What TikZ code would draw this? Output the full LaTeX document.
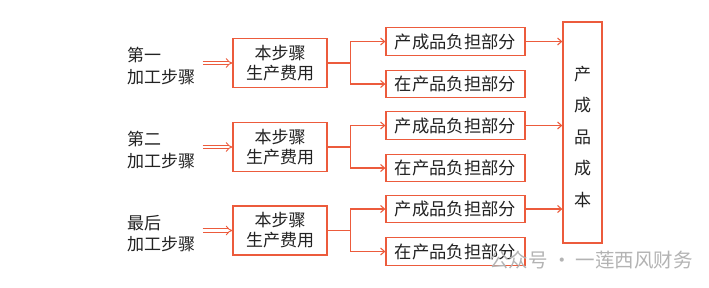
\documentclass[tikz,border=0pt]{standalone}
\usepackage{fontspec}
\setmainfont{Noto Sans CJK SC}
\usetikzlibrary{arrows.meta}
\definecolor{boxred}{HTML}{EC5B3C}
\definecolor{txt}{HTML}{222222}
\definecolor{wm}{HTML}{B3B3B3}
\tikzset{
  stepbox/.style={draw=boxred, line width=1.3pt, fill=white, text=txt, align=center,
    font=\fontsize{17}{20}\selectfont, inner sep=0pt},
  partbox/.style={draw=boxred, line width=1.3pt, fill=white, text=txt,
    minimum width=139pt, minimum height=27.5pt, font=\fontsize{17.3}{20}\selectfont, inner sep=0pt},
  lbl/.style={text=txt, align=left, anchor=west, inner sep=0pt, font=\fontsize{17}{21.7}\selectfont},
  conn/.style={draw=boxred, line width=1.1pt},
  arr/.style={conn, -{Straight Barb[length=4pt,width=7pt,line width=1.1pt]}},
  dblarr/.style={draw=boxred, line width=0.9pt, double=white, double distance=2.4pt, -{Implies}},
}
\begin{document}
\begin{tikzpicture}[x=1pt,y=-1pt]
\useasboundingbox[fill=white] (0,0) rectangle (709,287);
% tall box
\node[draw=boxred, line width=1.3pt, minimum width=39pt, minimum height=221pt, inner sep=0pt] (T) at (582.5,132.5) {};
\node[text=txt, align=center, inner sep=0pt, font=\fontsize{17}{31.5}\selectfont] (Tt) at (582.5,137) {产\\成\\品\\成\\本};
% groups
\foreach \i/\y/\la/\lb in {1/63/第一/加工步骤, 2/147/第二/加工步骤, 3/230.5/最后/加工步骤} {
  \node[lbl] (l\i) at (127,\y+3) {\la\\\lb};
  \node[stepbox, minimum width=94pt, minimum height=49pt] (s\i) at (280,\y) {本步骤\\生产费用};
  \coordinate (a\i) at (202.5,\y);
  \draw[dblarr] (a\i) -- (s\i.west);
  \node[partbox] (p\i) at (455.5,\y-21.5) {产成品负担部分};
  \node[partbox] (q\i) at (455.5,\y+21) {在产品负担部分};
  \coordinate (j\i) at (350.5,\y);
  \draw[conn] (s\i.east) -- (j\i);
  \draw[arr] (j\i) |- (p\i.west);
  \draw[arr] (j\i) |- (q\i.west);
  \draw[arr] (p\i.east) -- (p\i.east -| T.west);
}
% watermark
\node[text=wm, anchor=west, inner sep=0pt, font=\fontsize{19.5}{22}\selectfont] (wmk) at (489,260) {公众号 · 一莲西风财务};
\end{tikzpicture}
\end{document}
